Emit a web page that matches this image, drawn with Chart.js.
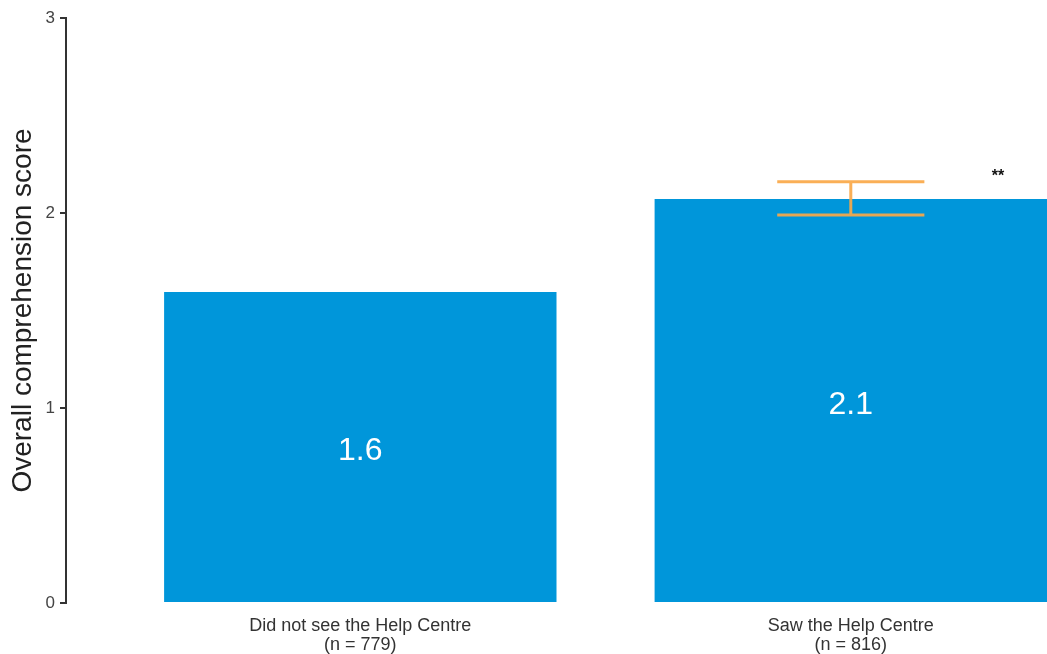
<!DOCTYPE html>
<html>
<head>
<meta charset="utf-8">
<script src="https://cdn.jsdelivr.net/npm/chart.js@4.4.0/dist/chart.umd.min.js"></script>
<style>
  html, body { margin: 0; padding: 0; background: #fff; overflow: hidden; }
  #wrap { width: 1047px; height: 654px; position: relative; }
</style>
</head>
<body>
<div id="wrap"><canvas id="chart"></canvas></div>
<script>
// groups on a linear x axis (0, 1), cut off on the right like the original plot
const groups = ['Did not see the Help Centre', 'Saw the Help Centre'];
const sampleSizes = [779, 816];
const scores = [1.595, 2.072];
const errLow = [null, 1.99];
const errHigh = [null, 2.16];
const sigMarks = [null, '**'];
const yTicks = [0, 1, 2, 3];

const FONT = '"Liberation Sans", Arial, Helvetica, sans-serif';

// error bars, in-bar value labels and significance stars
const overlay = {
  id: 'overlay',
  afterDatasetsDraw(chart) {
    const ctx = chart.ctx;
    const x = chart.scales.x, y = chart.scales.y;
    const meta = chart.getDatasetMeta(0);
    ctx.save();
    meta.data.forEach((bar, i) => {
      // value label at half height
      ctx.fillStyle = '#ffffff';
      ctx.font = '32px ' + FONT;
      ctx.textAlign = 'center';
      ctx.textBaseline = 'middle';
      ctx.fillText(scores[i].toFixed(1), bar.x, y.getPixelForValue(scores[i] / 2) + 4);

      if (errLow[i] != null) {
        const cx = x.getPixelForValue(i);
        const half = x.getPixelForValue(i + 0.15) - cx;
        const yl = y.getPixelForValue(errLow[i]);
        const yh = y.getPixelForValue(errHigh[i]);
        ctx.strokeStyle = 'rgba(250,168,72,0.92)';
        ctx.lineWidth = 3;
        ctx.beginPath();
        ctx.moveTo(cx - half, yh); ctx.lineTo(cx + half, yh);
        ctx.moveTo(cx - half, yl); ctx.lineTo(cx + half, yl);
        ctx.moveTo(cx, yh); ctx.lineTo(cx, yl);
        ctx.stroke();
      }
      if (sigMarks[i]) {
        ctx.fillStyle = '#111';
        ctx.font = 'bold 16px ' + FONT;
        ctx.textBaseline = 'middle';
        ctx.fillText(sigMarks[i], x.getPixelForValue(i + 0.3), y.getPixelForValue(errHigh[i]) - 5);
      }
    });
    ctx.restore();
  }
};

new Chart(document.getElementById('chart'), {
  type: 'bar',
  data: {
    datasets: [{
      data: scores.map((v, i) => ({ x: i, y: v })),
      backgroundColor: '#0096da',
      categoryPercentage: 1,
      barPercentage: 0.8
    }]
  },
  options: {
    responsive: true,
    maintainAspectRatio: false,
    animation: false,
    layout: { padding: { top: 18, right: 0, left: 0, bottom: 0 } },
    plugins: { legend: { display: false }, tooltip: { enabled: false } },
    scales: {
      x: {
        type: 'linear',
        offset: false,
        min: -0.6,
        max: 1.4,
        grid: { display: false, drawTicks: false },
        border: { display: false },
        afterBuildTicks: s => { s.ticks = groups.map((g, i) => ({ value: i })); },
        afterFit: s => { s.height = 51; },
        ticks: {
          padding: 14,
          color: '#333',
          font: { family: FONT, size: 18, lineHeight: 1.05 },
          maxRotation: 0,
          callback: v => [groups[v], '(n = ' + sampleSizes[v] + ')']
        }
      },
      y: {
        min: 0,
        max: 3,
        afterBuildTicks: s => { s.ticks = yTicks.map(v => ({ value: v })); },
        afterFit: s => { s.width = 66; },
        grid: { drawOnChartArea: false, drawTicks: true, tickLength: 6, color: '#333', lineWidth: 2 },
        border: { display: true, color: '#333', width: 2 },
        ticks: {
          padding: 5,
          color: '#444',
          font: { family: FONT, size: 17 }
        },
        title: {
          display: true,
          text: 'Overall comprehension score',
          color: '#222',
          font: { family: FONT, size: 28 },
          padding: { top: 6, bottom: 0 }
        }
      }
    }
  },
  plugins: [overlay]
});
</script>
</body>
</html>
